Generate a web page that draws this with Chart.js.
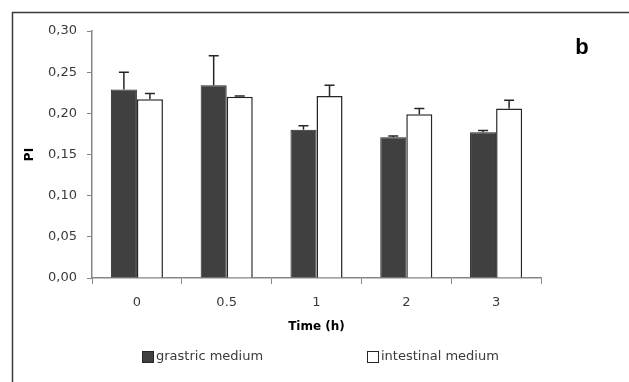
<!DOCTYPE html>
<html>
<head>
<meta charset="utf-8">
<script src="https://cdn.jsdelivr.net/npm/chart.js@4"></script>
<style>
  html, body { margin: 0; padding: 0; background: #fff; }
  #wrap { width: 629px; height: 382px; }
</style>
</head>
<body>
<div id="wrap"><canvas id="barChart" width="629" height="382"></canvas></div>
<script>
const times = ['0', '0.5', '1', '2', '3'];
const gastric = [0.229, 0.234, 0.180, 0.171, 0.177];
const gastricErr = [0.021, 0.036, 0.005, 0.0015, 0.002];
const intestinal = [0.217, 0.220, 0.221, 0.199, 0.206];
const intestinalErr = [0.007, 0.001, 0.013, 0.007, 0.010];
const yTicks = [0, 0.05, 0.10, 0.15, 0.20, 0.25, 0.30];

const FONT = 'DejaVu Sans';
const axisGrey = '#868686';
const textGrey = '#3a3a3a';

// outer frame of the figure
const framePlugin = {
    id: 'frame',
    beforeDraw(chart) {
        const ctx = chart.ctx;
        ctx.save();
        ctx.strokeStyle = '#3a3a3a';
        ctx.lineWidth = 1.5;
        ctx.strokeRect(12.5, 12.5, 800, 600);
        ctx.fillStyle = '#000';
        ctx.font = 'bold 22px "Liberation Sans"';
        ctx.textAlign = 'center';
        ctx.textBaseline = 'middle';
        ctx.fillText('b', 582, 48);
        ctx.restore();
    }
};

// upward error bars on top of each bar
const errorBarPlugin = {
    id: 'errorBars',
    afterDatasetsDraw(chart) {
        const ctx = chart.ctx;
        const y = chart.scales.y;
        ctx.save();
        ctx.strokeStyle = '#262626';
        ctx.lineWidth = 1.5;
        chart.data.datasets.forEach((ds, d) => {
            const meta = chart.getDatasetMeta(d);
            meta.data.forEach((bar, i) => {
                const top = y.getPixelForValue(ds.data[i] + ds.errors[i]);
                ctx.beginPath();
                ctx.moveTo(bar.x, bar.y);
                ctx.lineTo(bar.x, top);
                ctx.moveTo(bar.x - 5, top);
                ctx.lineTo(bar.x + 5, top);
                ctx.stroke();
            });
        });
        ctx.restore();
    }
};

// legend spread out like the original
const legendPlugin = {
    id: 'spreadLegend',
    afterDraw(chart) {
        const ctx = chart.ctx;
        const starts = [142, 367];
        ctx.save();
        ctx.font = '13px "' + FONT + '"';
        ctx.textBaseline = 'middle';
        chart.data.datasets.forEach((ds, d) => {
            const x = starts[d];
            ctx.fillStyle = ds.backgroundColor;
            ctx.fillRect(x + 0.5, 351.5, 11, 11);
            ctx.strokeStyle = '#262626';
            ctx.lineWidth = 1;
            ctx.strokeRect(x + 0.5, 351.5, 11, 11);
            ctx.fillStyle = textGrey;
            ctx.fillText(ds.label, x + 14, 357);
        });
        ctx.restore();
    }
};

const ctx = document.getElementById('barChart').getContext('2d');
const barChart = new Chart(ctx, {
    type: 'bar',
    data: {
        labels: times,
        datasets: [{
            label: 'grastric medium',
            data: gastric,
            errors: gastricErr,
            backgroundColor: '#404040',
            borderColor: '#262626',
            borderWidth: 1
        }, {
            label: 'intestinal medium',
            data: intestinal,
            errors: intestinalErr,
            backgroundColor: '#ffffff',
            borderColor: '#262626',
            borderWidth: 1.5
        }]
    },
    options: {
        responsive: false,
        animation: false,
        categoryPercentage: 0.58,
        barPercentage: 1,
        layout: {
            padding: { left: 0, top: 31, right: 88, bottom: 42 }
        },
        plugins: {
            legend: { display: false },
            tooltip: { enabled: false }
        },
        scales: {
            x: {
                afterFit(scale) { scale.height = 62; },
                grid: {
                    offset: true,
                    drawOnChartArea: false,
                    tickLength: 6,
                    color: axisGrey
                },
                border: { color: axisGrey, width: 1.5 },
                ticks: {
                    padding: 11,
                    color: textGrey,
                    font: { family: FONT, size: 13 }
                },
                title: {
                    display: true,
                    text: 'Time (h)',
                    color: '#000',
                    font: { family: FONT, size: 12, weight: 'bold' },
                    padding: { top: 0, bottom: 6 }
                }
            },
            y: {
                min: 0,
                max: 0.3,
                afterFit(scale) { scale.width = 92; },
                afterBuildTicks(scale) {
                    scale.ticks = yTicks.map(v => ({ value: v }));
                },
                grid: {
                    drawOnChartArea: false,
                    tickLength: 5,
                    color: axisGrey
                },
                border: { color: axisGrey, width: 1.5 },
                ticks: {
                    padding: 10,
                    color: textGrey,
                    font: { family: FONT, size: 13 },
                    callback: v => v.toFixed(2).replace('.', ',')
                },
                title: {
                    display: true,
                    text: 'PI',
                    color: '#000',
                    font: { family: FONT, size: 12, weight: 'bold' },
                    padding: { top: 23, bottom: 0 }
                }
            }
        }
    },
    plugins: [framePlugin, errorBarPlugin, legendPlugin]
});
</script>
</body>
</html>
